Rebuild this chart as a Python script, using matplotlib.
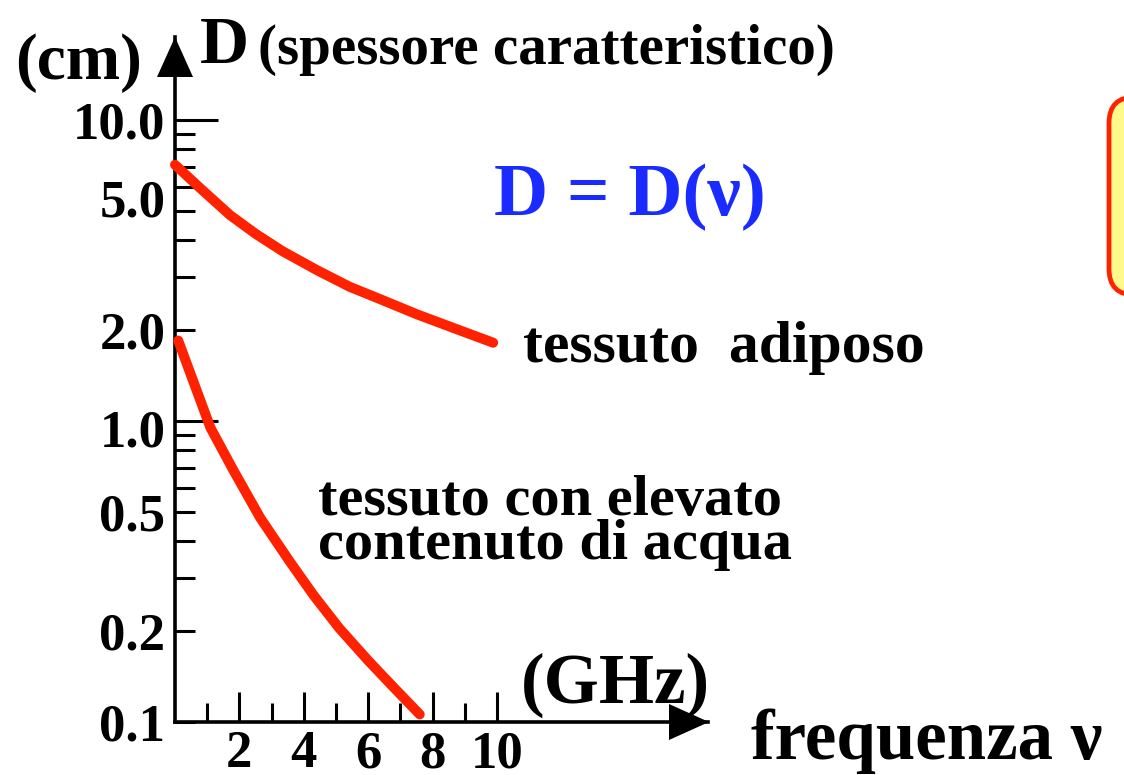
import matplotlib
matplotlib.use("Agg")
import matplotlib.pyplot as plt
from matplotlib.ticker import FixedLocator, FixedFormatter
from matplotlib.transforms import Affine2D, ScaledTranslation
from matplotlib.patches import FancyBboxPatch, Polygon

# ---------------- data ----------------
fat_freq = [0.0, 0.78, 1.71, 2.5, 3.35, 4.41, 5.43, 6.37, 7.52, 8.85, 9.88]
fat_D = [7.1, 5.94, 4.83, 4.19, 3.66, 3.17, 2.79, 2.54, 2.26, 2.0, 1.82]

water_freq = [0.1, 1.1, 1.8, 2.65, 3.55, 4.3, 5.1, 6.0, 6.8, 7.6]
water_D = [1.85, 0.95, 0.69, 0.476, 0.343, 0.264, 0.205, 0.160, 0.130, 0.106]

x_major = [2, 4, 6, 8, 10]
x_major_labels = ["2", "4", "6", "8", "10"]
x_minor = [1, 3, 5, 7, 9]

y_major = [1.0, 10.0]
y_major_labels = ["1.0", "10.0"]
y_minor = [0.1, 0.2, 0.3, 0.4, 0.5, 0.6, 0.7, 0.8, 0.9, 2, 3, 4, 5, 6, 7, 8, 9]
y_minor_labels = ["0.1", "0.2", "", "", "0.5", "", "", "", "", "2.0", "", "", "5.0", "", "", "", ""]

# ---------------- style ----------------
plt.rcParams["font.family"] = ["Liberation Serif", "DejaVu Serif"]
plt.rcParams["font.weight"] = "bold"

W, H = 1124, 775
fig = plt.figure(figsize=(W / 100, H / 100), dpi=100)
fig.patch.set_facecolor("white")
# pixel transform (origin top-left)
PX = Affine2D().scale(1 / 100, -1 / 100).translate(0, H / 100) + fig.dpi_scale_trans

ax_left, ax_right, ax_bottom, ax_top = 175, 708, 722, 37
ax = fig.add_axes([ax_left / W, (H - ax_bottom) / H,
                   (ax_right - ax_left) / W, (ax_bottom - ax_top) / H])
ax.set_facecolor("none")

px_per_unit = 32.2
px_per_decade = 301.0
ax.set_xlim(0, (ax_right - ax_left) / px_per_unit)
ax.set_yscale("log")
ax.set_ylim(0.1, 10 ** (-1 + (ax_bottom - ax_top) / px_per_decade))

for s in ["top", "right"]:
    ax.spines[s].set_visible(False)
for s in ["left", "bottom"]:
    ax.spines[s].set_linewidth(2.6)
    ax.spines[s].set_color("black")

red = "#ff2200"
ax.plot(fat_freq, fat_D, color=red, lw=7.2, solid_capstyle="round",
        solid_joinstyle="round", clip_on=False, zorder=3)
ax.plot(water_freq, water_D, color=red, lw=7.2, solid_capstyle="round",
        solid_joinstyle="round", clip_on=False, zorder=3)

# ticks
ax.xaxis.set_major_locator(FixedLocator(x_major))
ax.xaxis.set_major_formatter(FixedFormatter(x_major_labels))
ax.xaxis.set_minor_locator(FixedLocator(x_minor))
ax.tick_params(axis="x", which="major", direction="in", length=21.6, width=2.2,
               pad=6, labelsize=38, colors="black")
ax.tick_params(axis="x", which="minor", direction="in", length=13.7, width=2.2)

ax.yaxis.set_major_locator(FixedLocator(y_major))
ax.yaxis.set_major_formatter(FixedFormatter(y_major_labels))
ax.yaxis.set_minor_locator(FixedLocator(y_minor))
ax.yaxis.set_minor_formatter(FixedFormatter(y_minor_labels))
ax.tick_params(axis="y", which="major", direction="in", length=31, width=2.2,
               pad=7, labelsize=38)
ax.tick_params(axis="y", which="minor", direction="in", length=14.4, width=2.2,
               pad=7, labelsize=38)
for lab in ax.get_xticklabels() + ax.get_yticklabels() + ax.get_yticklabels(minor=True):
    lab.set_fontweight("bold")

# small hand-drawn offsets of two y labels, as in the original
for tk, loc in zip(ax.yaxis.get_minor_ticks(), y_minor):
    if loc == 5:
        tk.label1.set_transform(tk.label1.get_transform() +
                                ScaledTranslation(0, 0.13, fig.dpi_scale_trans))
for tk, loc in zip(ax.yaxis.get_major_ticks(), y_major):
    if loc == 1.0:
        tk.label1.set_transform(tk.label1.get_transform() +
                                ScaledTranslation(0, -0.07, fig.dpi_scale_trans))

# arrow heads
fig.patches.append(Polygon([(175, 37), (157, 77), (193, 77)], closed=True,
                           facecolor="black", edgecolor="none", transform=PX))
fig.patches.append(Polygon([(709, 722), (669, 704), (669, 740)], closed=True,
                           facecolor="black", edgecolor="none", transform=PX))

# yellow box on the right edge
fig.patches.append(FancyBboxPatch((1109, 97), 80, 198,
                                  boxstyle="round,pad=0,rounding_size=26",
                                  facecolor="#fff88a", edgecolor=red, lw=3.4,
                                  transform=PX))

def t(x, y, s, size, **kw):
    return fig.text(x, y, s, transform=PX, fontsize=size, fontweight="bold",
                    va="baseline", **kw)

t(15, 79, "(cm)", 47)
t(200, 63, "D", 49)
t(258, 64, "(spessore caratteristico)", 41)
t(630, 215, "D = D(ν)", 54, ha="center", color="#1a2bff")
t(523, 362, "tessuto  adiposo", 43)
t(318, 559, "tessuto con elevato\ncontenuto di acqua", 42, linespacing=0.8)
t(521, 703, "(GHz)", 51)
t(751, 759, "frequenza ν", 51)

fig.savefig("out.png", dpi=100, facecolor="white")
